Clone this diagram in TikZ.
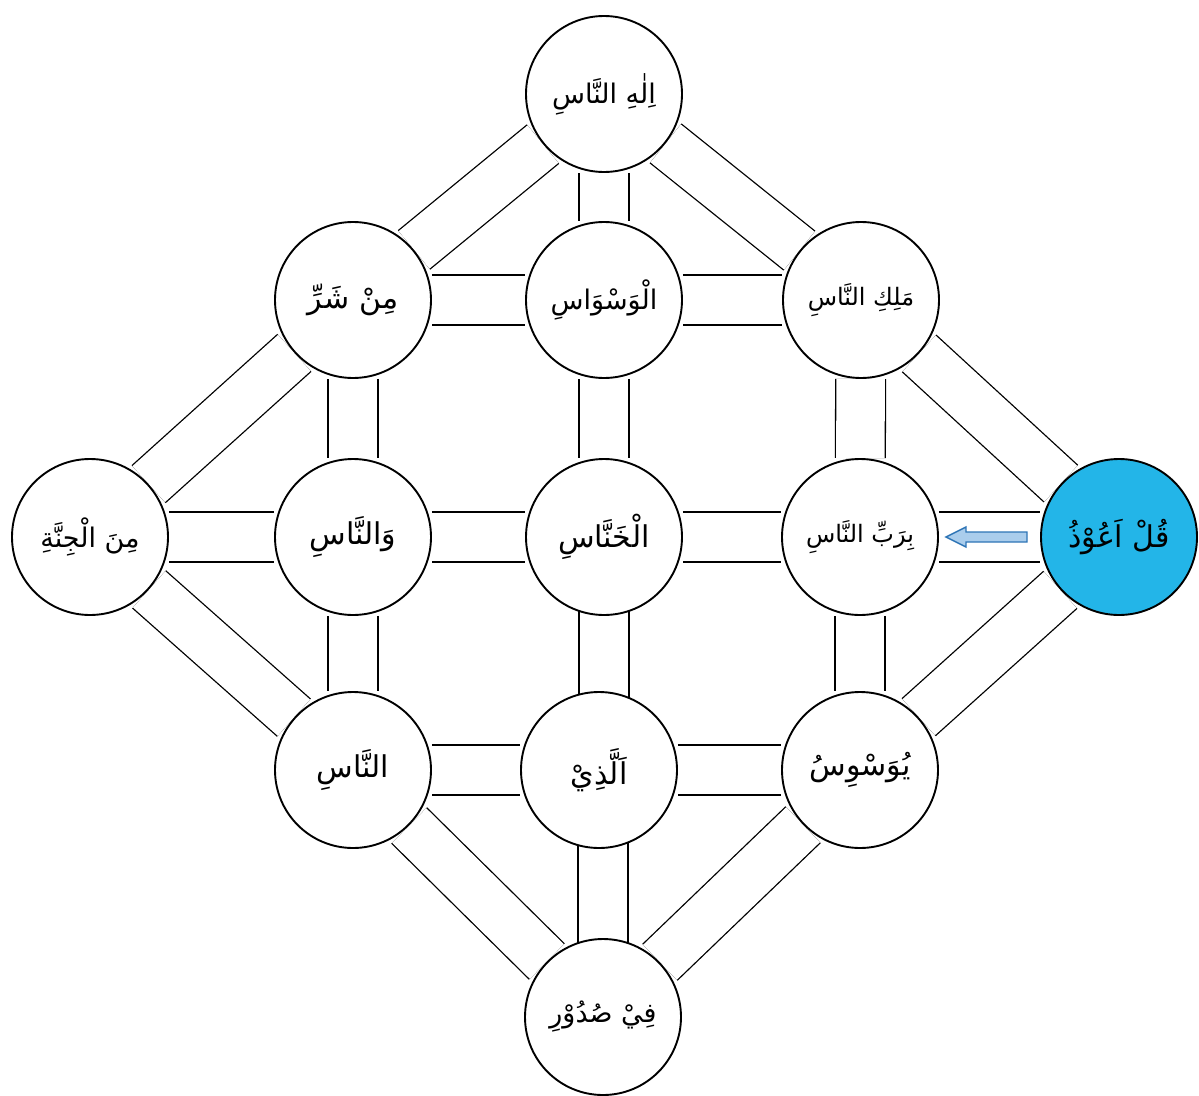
\documentclass[tikz,border=0pt]{standalone}
\usepackage{fontspec}
\newfontfamily\arabicfont[Script=Arabic]{DejaVu Sans}
\TeXXeTstate=1
\usetikzlibrary{backgrounds}
\definecolor{qulblue}{RGB}{35,181,232}
\definecolor{arrline}{RGB}{46,117,182}
\definecolor{arrfill}{RGB}{170,205,236}
\tikzset{
  word/.style={circle, draw=black, line width=1.9pt, fill=white, minimum size=156pt, inner sep=0pt,
    font=\arabicfont\fontsize{27}{32}\selectfont},
  smallword/.style={word, font=\arabicfont\fontsize{24}{28}\selectfont},
  bigword/.style={word, font=\arabicfont\fontsize{30}{34}\selectfont},
  conn/.style={draw=black, line width=1.3pt, double=white, double distance=48.5pt},
  blockarrow/.style={draw=arrline, line width=1.4pt, fill=arrfill, line join=miter}
}
\newcommand{\ar}[1]{\beginR #1\endR}
\begin{document}
\begin{tikzpicture}[x=1pt,y=-1pt]
\useasboundingbox (0,0) rectangle (1199,1095);
% nodes
\node[word] (ilah)   at (604,94)   {\ar{اِلٰهِ النَّاسِ}};
\node[bigword] (shar)   at (353,300)  {\ar{مِنْ شَرِّ}};
\node[word] (waswas) at (604,300)  {\ar{الْوَسْوَاسِ}};
\node[smallword] (malik)  at (861,300)  {\ar{مَلِكِ النَّاسِ}};
\node[word] (jinna)  at (90,537)   {\ar{مِنَ الْجِنَّةِ}};
\node[bigword] (wannas) at (353,537)  {\ar{وَالنَّاسِ}};
\node[bigword] (khannas) at (604,537) {\ar{الْخَنَّاسِ}};
\node[smallword] (rabb)   at (860,537)  {\ar{بِرَبِّ النَّاسِ}};
\node[bigword, fill=qulblue] (qul) at (1119,537) {\ar{قُلْ اَعُوْذُ}};
\node[bigword] (nas)    at (353,770)  {\ar{النَّاسِ}};
\node[bigword] (alladhi) at (599,770) {\ar{اَلَّذِيْ}};
\node[bigword] (yuwas)  at (860,770)  {\ar{يُوَسْوِسُ}};
\node[word] (sudur)  at (603,1017) {\ar{فِيْ صُدُوْرِ}};
% arrow
\draw[blockarrow] (946,537) -- (966,527) -- (966,532) -- (1027,532) -- (1027,542)
  -- (966,542) -- (966,547) -- cycle;
\begin{scope}[on background layer]
% outer diamond
\draw[conn] (ilah) -- (malik);
\draw[conn] (malik) -- (qul);
\draw[conn] (qul) -- (yuwas);
\draw[conn] (yuwas) -- (sudur);
\draw[conn] (sudur) -- (nas);
\draw[conn] (nas) -- (jinna);
\draw[conn] (jinna) -- (shar);
\draw[conn] (shar) -- (ilah);
% rows
\draw[conn] (shar) -- (waswas);
\draw[conn] (waswas) -- (malik);
\draw[conn] (jinna) -- (wannas);
\draw[conn] (wannas) -- (khannas);
\draw[conn] (khannas) -- (rabb);
\draw[conn] (rabb) -- (qul);
\draw[conn] (nas) -- (alladhi);
\draw[conn] (alladhi) -- (yuwas);
% columns
\draw[conn] (ilah) -- (waswas);
\draw[conn] (waswas) -- (khannas);
\draw[conn] (khannas.center) -- (khannas.center |- alladhi.center);
\draw[conn] (sudur.center) -- (sudur.center |- alladhi.center);
\draw[conn] (shar) -- (wannas);
\draw[conn] (wannas) -- (nas);
\draw[conn] (malik) -- (rabb);
\draw[conn] (rabb) -- (yuwas);
\end{scope}
\end{tikzpicture}
\end{document}
